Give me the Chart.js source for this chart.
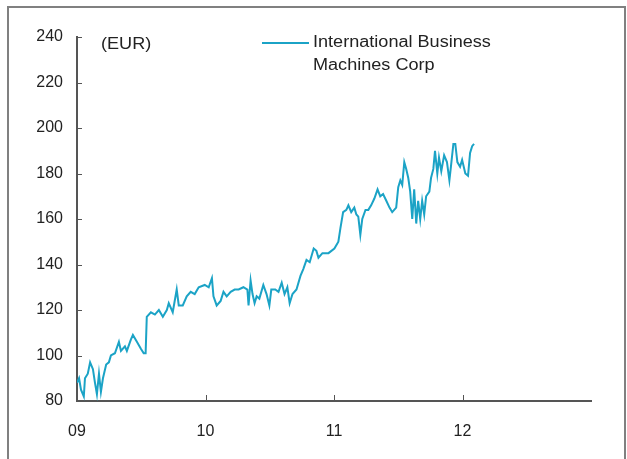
<!DOCTYPE html>
<html>
<head>
<meta charset="utf-8">
<script src="https://cdn.jsdelivr.net/npm/chart.js@4.4.0/dist/chart.umd.min.js"></script>
<style>
  html, body { margin: 0; padding: 0; background: #fff; }
  #wrap { position: relative; width: 627px; height: 459px; }
  #frame {
    position: absolute; left: 7px; top: 6px; width: 615px; height: 460px;
    border: 2px solid #808080; border-bottom: none; pointer-events: none;
  }
</style>
</head>
<body>
<div id="wrap">
  <canvas id="chart" width="627" height="459"></canvas>
  <div id="frame"></div>
</div>
<script>
// Dates as fractional years
const times = [
  2009.000, 2009.016, 2009.031, 2009.053, 2009.062, 2009.084, 2009.102, 2009.124, 2009.140, 2009.155,
  2009.171, 2009.186, 2009.202, 2009.227, 2009.248, 2009.264, 2009.295, 2009.326, 2009.342, 2009.373,
  2009.388, 2009.419, 2009.435, 2009.466, 2009.497, 2009.519, 2009.534, 2009.543, 2009.575, 2009.606,
  2009.637, 2009.668, 2009.699, 2009.714, 2009.745, 2009.776, 2009.792, 2009.823, 2009.854, 2009.885,
  2009.916, 2009.947, 2009.994, 2010.025, 2010.050, 2010.062, 2010.087, 2010.118, 2010.140, 2010.165,
  2010.196, 2010.227, 2010.258, 2010.295, 2010.326, 2010.335, 2010.351, 2010.366, 2010.382, 2010.398,
  2010.419, 2010.450, 2010.475, 2010.497, 2010.512, 2010.543, 2010.568, 2010.593, 2010.615, 2010.637,
  2010.655, 2010.677, 2010.708, 2010.739, 2010.761, 2010.786, 2010.811, 2010.842, 2010.863, 2010.879,
  2010.910, 2010.957, 2011.003, 2011.034, 2011.050, 2011.071, 2011.096, 2011.112, 2011.134, 2011.158,
  2011.174, 2011.189, 2011.205, 2011.220, 2011.245, 2011.267, 2011.289, 2011.314, 2011.339, 2011.360,
  2011.382, 2011.407, 2011.432, 2011.453, 2011.484, 2011.500, 2011.516, 2011.531, 2011.547, 2011.562,
  2011.578, 2011.593, 2011.609, 2011.624, 2011.640, 2011.655, 2011.671, 2011.686, 2011.702, 2011.717,
  2011.742, 2011.755, 2011.773, 2011.786, 2011.804, 2011.817, 2011.835, 2011.857, 2011.879, 2011.898,
  2011.910, 2011.929, 2011.944, 2011.960, 2011.981, 2011.997, 2012.022, 2012.043, 2012.059, 2012.075,
  2012.090
];
const prices = [
  88, 90, 85, 82, 90, 92, 97, 94, 88, 83,
  92, 84, 90, 96, 97, 100, 101, 106, 102, 104,
  102, 107, 109, 106, 103, 101, 101, 117, 119, 118,
  120, 117, 120, 123, 119, 129, 122, 122, 126, 128,
  127, 130, 131, 130, 134, 126, 122, 124, 128, 126,
  128, 129, 129, 130, 129, 122, 133, 127, 123, 126,
  125, 131, 127, 122, 129, 129, 128, 132, 127, 130,
  123, 127, 129, 135, 138, 142, 141, 147, 146, 143,
  145, 145, 147, 150, 156, 163, 164, 166, 163, 165,
  162, 161, 153, 160, 164, 164, 166, 169, 173, 170,
  171, 168, 165, 163, 165, 174, 177, 175, 185, 182,
  178, 172, 160, 173, 158, 168, 160, 168, 162, 170,
  172, 178, 182, 190, 180, 187, 181, 188, 185, 177,
  183, 193, 193, 185, 183, 186, 180, 179, 189, 192,
  193
];
const yearTicks = [2009, 2010, 2011, 2012];
const yearLabels = ['09', '10', '11', '12'];
const seriesName = ['International Business', 'Machines Corp'];
const unitLabel = '(EUR)';

const lineColor = '#1ba3c6';
const axisColor = '#555555';
const font = "'Liberation Sans', Arial, sans-serif";

// text in the reference is a little wider than plain Arial
function wideText(ctx, text, x, y) {
  ctx.save();
  ctx.translate(x, y);
  ctx.scale(1.13, 1);
  ctx.fillText(text, 0, 0);
  ctx.restore();
}

// inward tick marks, unit label and the two-line legend
const decorations = {
  id: 'decorations',
  afterDraw(chart) {
    const { ctx, chartArea, scales } = chart;
    ctx.save();
    ctx.strokeStyle = axisColor;
    ctx.lineWidth = 1;
    scales.y.ticks.forEach(t => {
      const y = Math.round(scales.y.getPixelForValue(t.value)) + 0.5;
      ctx.beginPath();
      ctx.moveTo(chartArea.left, y);
      ctx.lineTo(chartArea.left + 5, y);
      ctx.stroke();
    });
    yearTicks.slice(1).forEach(v => {
      const x = Math.round(scales.x.getPixelForValue(v)) + 0.5;
      ctx.beginPath();
      ctx.moveTo(x, chartArea.bottom);
      ctx.lineTo(x, chartArea.bottom - 6);
      ctx.stroke();
    });

    ctx.fillStyle = '#222';
    ctx.font = '16px ' + font;
    ctx.textBaseline = 'middle';
    wideText(ctx, unitLabel, 101, 45);

    ctx.strokeStyle = lineColor;
    ctx.lineWidth = 2;
    ctx.beginPath();
    ctx.moveTo(262, 43);
    ctx.lineTo(309, 43);
    ctx.stroke();
    wideText(ctx, seriesName[0], 313, 43);
    wideText(ctx, seriesName[1], 313, 66);
    ctx.restore();
  }
};

new Chart(document.getElementById('chart'), {
  type: 'line',
  data: {
    datasets: [{
      label: seriesName.join(' '),
      data: times.map((t, i) => ({ x: t, y: prices[i] })),
      borderColor: lineColor,
      borderWidth: 2,
      pointRadius: 0,
      tension: 0,
      fill: false
    }]
  },
  options: {
    responsive: false,
    animation: false,
    events: [],
    layout: { padding: { top: 37, right: 36, left: 0, bottom: 0 } },
    plugins: { legend: { display: false }, tooltip: { enabled: false } },
    scales: {
      x: {
        type: 'linear',
        min: 2009,
        max: 2013,
        afterBuildTicks: s => { s.ticks = yearTicks.map(v => ({ value: v })); },
        afterFit: s => { s.height = 58; },
        ticks: {
          padding: 21,
          color: '#222',
          font: { family: font, size: 16 },
          callback: v => yearLabels[yearTicks.indexOf(v)] || ''
        },
        grid: { display: false, drawTicks: false },
        border: { display: true, color: axisColor, width: 2 }
      },
      y: {
        min: 80,
        max: 240,
        afterFit: s => { s.width = 77; },
        ticks: {
          stepSize: 20,
          padding: 14,
          color: '#222',
          font: { family: font, size: 16 }
        },
        grid: { display: false, drawTicks: false },
        border: { display: true, color: axisColor, width: 2 }
      }
    }
  },
  plugins: [decorations]
});
</script>
</body>
</html>
